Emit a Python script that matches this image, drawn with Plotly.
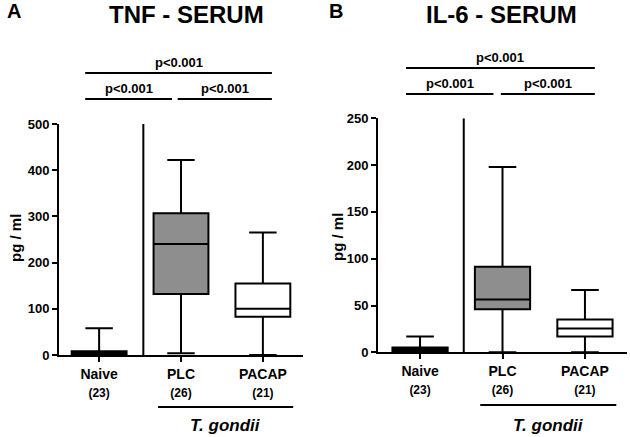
import plotly.graph_objects as go

# ---- data ----
groups = ["Naive", "PLC", "PACAP"]
counts = ["(23)", "(26)", "(21)"]
fills = ["#ffffff", "#8e8e8e", "#ffffff"]

tnf_lower = [0, 4, 0]
tnf_q1 = [1, 132, 83]
tnf_median = [4, 240, 100]
tnf_q3 = [8, 307, 155]
tnf_upper = [58, 422, 265]

il6_lower = [0, 0, 0]
il6_q1 = [1, 46, 17]
il6_median = [3, 56.5, 25.5]
il6_q3 = [5, 91.5, 35]
il6_upper = [17, 198, 66.5]

tnf_ticks = [0, 100, 200, 300, 400, 500]
il6_ticks = [0, 50, 100, 150, 200, 250]

FONT = "Arial, Liberation Sans, sans-serif"
H = 437.0


def py(pix):
    return (H - pix) / H


fig = go.Figure()

for i, g in enumerate(groups):
    fig.add_trace(go.Box(
        x=[g], q1=[tnf_q1[i]], median=[tnf_median[i]], q3=[tnf_q3[i]],
        lowerfence=[tnf_lower[i]], upperfence=[tnf_upper[i]],
        fillcolor=fills[i], line=dict(color="black", width=2),
        width=0.67, whiskerwidth=0.5, boxpoints=False, showlegend=False,
        xaxis="x", yaxis="y"))
    fig.add_trace(go.Box(
        x=[g], q1=[il6_q1[i]], median=[il6_median[i]], q3=[il6_q3[i]],
        lowerfence=[il6_lower[i]], upperfence=[il6_upper[i]],
        fillcolor=fills[i], line=dict(color="black", width=2),
        width=0.67, whiskerwidth=0.5, boxpoints=False, showlegend=False,
        xaxis="x2", yaxis="y2"))

ticktext = [f"{g}<br><span style='font-size:12px'>{c}</span>" for g, c in zip(groups, counts)]

xcommon = dict(type="category", showline=True, linecolor="black", linewidth=2,
               ticks="outside", ticklen=5, tickwidth=2, tickcolor="black",
               showgrid=False, zeroline=False, tickvals=groups, ticktext=ticktext,
               automargin=False,
               tickfont=dict(family=FONT, size=14, color="black", weight="bold"),
               categoryorder="array", categoryarray=groups)
ycommon = dict(showline=True, linecolor="black", linewidth=2, ticks="outside",
               ticklen=5, tickwidth=2, tickcolor="black", showgrid=False,
               zeroline=False, automargin=False,
               tickfont=dict(family=FONT, size=13, color="black", weight="bold"))

fig.update_layout(
    width=630, height=437, paper_bgcolor="white", plot_bgcolor="white",
    margin=dict(l=0, r=0, t=0, b=0, autoexpand=False),
    xaxis=dict(xcommon, domain=[59 / 630, 303 / 630], range=[-0.49, 2.49], anchor="y"),
    yaxis=dict(ycommon, domain=[py(355), py(124)], range=[0, 500], tickvals=tnf_ticks, anchor="x"),
    xaxis2=dict(xcommon, domain=[378 / 630, 627 / 630], range=[-0.51, 2.51], anchor="y2"),
    yaxis2=dict(ycommon, domain=[py(352.3), py(118.3)], range=[0, 250], tickvals=il6_ticks, anchor="x2"),
)

shapes = []
annos = []

panels = [
    dict(xr="x", yr="y", div=0.54, ymax=500,
         top=(-0.17, 2.11, 73), lowl=(-0.17, 0.89, 99), lowr=(0.96, 2.11, 99),
         tg=(0.72, 2.37, 407), tgc=(225, 425), ylab=(15, 238)),
    dict(xr="x2", yr="y2", div=0.53, ymax=250,
         top=(-0.17, 2.12, 68), lowl=(-0.17, 0.89, 94), lowr=(0.98, 2.12, 94),
         tg=(0.73, 2.38, 405), tgc=(548, 425), ylab=(338, 237)),
]

for p in panels:
    shapes.append(dict(type="line", xref=p["xr"], yref=p["yr"], x0=p["div"], x1=p["div"],
                       y0=0, y1=p["ymax"], line=dict(color="black", width=2)))
    for key in ("top", "lowl", "lowr"):
        x0, x1, yy = p[key]
        shapes.append(dict(type="line", xref=p["xr"], yref="paper", x0=x0, x1=x1,
                           y0=py(yy), y1=py(yy), line=dict(color="black", width=2)))
        annos.append(dict(text="p<0.001", xref=p["xr"], yref="paper", x=(x0 + x1) / 2,
                          y=py(yy - 1), xanchor="center", yanchor="bottom", showarrow=False,
                          font=dict(family=FONT, size=13, color="black", weight="bold")))
    x0, x1, yy = p["tg"]
    shapes.append(dict(type="line", xref=p["xr"], yref="paper", x0=x0, x1=x1,
                       y0=py(yy), y1=py(yy), line=dict(color="black", width=2)))
    cx, cy = p["tgc"]
    annos.append(dict(text="<i>T. gondii</i>", xref="paper", yref="paper", x=cx / 630, y=py(cy),
                      xanchor="center", yanchor="middle", showarrow=False,
                      font=dict(family=FONT, size=17, color="black", weight="bold")))
    lx, ly = p["ylab"]
    annos.append(dict(text="pg / ml", xref="paper", yref="paper", x=lx / 630, y=py(ly),
                      xanchor="center", yanchor="middle", showarrow=False, textangle=-90,
                      font=dict(family=FONT, size=15, color="black", weight="bold")))

titles = [("A", 14, 11, 20), ("TNF - SERUM", 186, 14, 24), ("B", 336, 11, 20), ("IL-6 - SERUM", 502, 14, 24)]
for t, x, y, s in titles:
    annos.append(dict(text=t, xref="paper", yref="paper", x=x / 630, y=py(y),
                      xanchor="center", yanchor="middle", showarrow=False,
                      font=dict(family=FONT, size=s, color="black", weight="bold")))

fig.update_layout(shapes=shapes, annotations=annos)
fig.write_html("out.html", config={"displayModeBar": False},
               post_script="document.body.style.margin='0';document.body.style.overflow='hidden';")
